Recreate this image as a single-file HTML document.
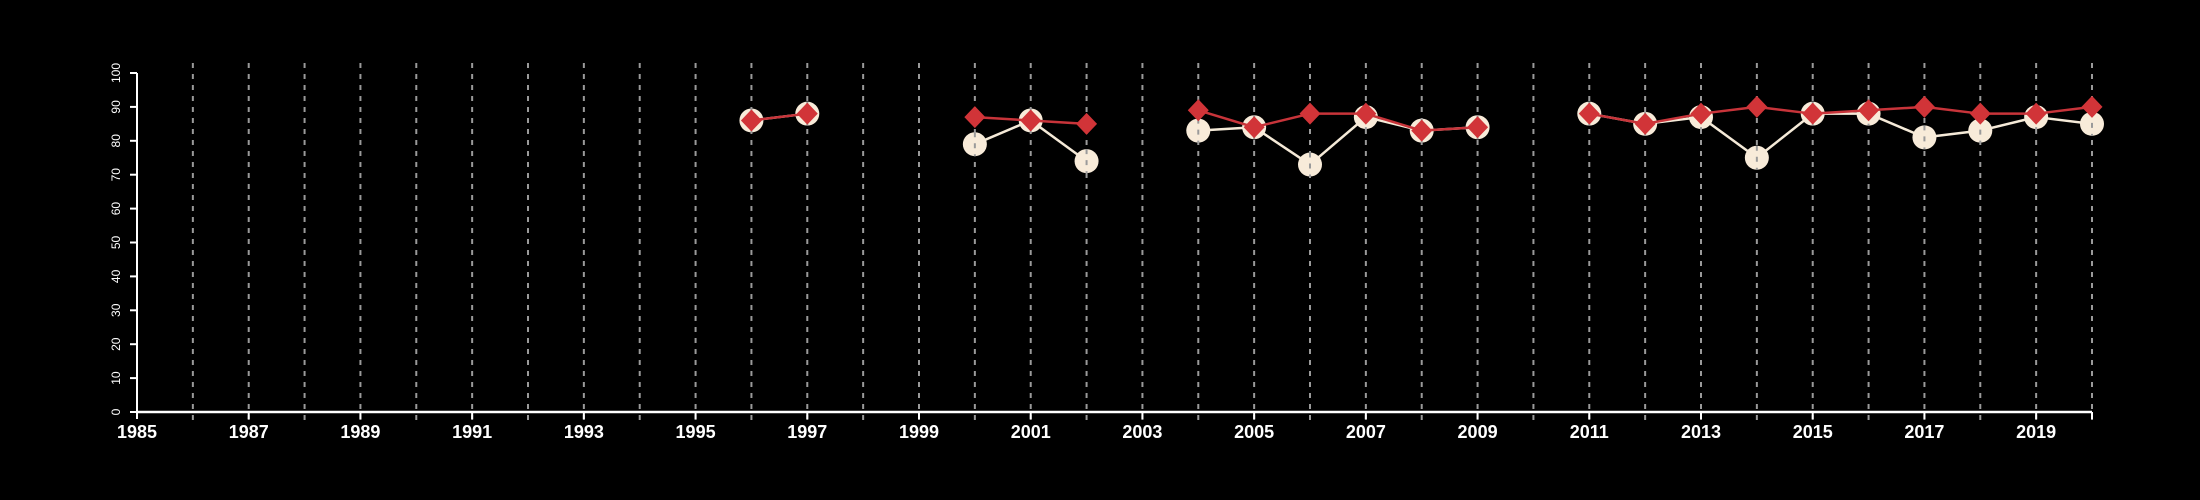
<!DOCTYPE html>
<html><head><meta charset="utf-8"><style>
html,body{margin:0;padding:0;background:#000;}
svg{display:block;font-family:"Liberation Sans",sans-serif;}
</style></head><body>
<svg id="chart" width="2200" height="500" xmlns="http://www.w3.org/2000/svg">
<rect width="2200" height="500" fill="#000"/>
<g id="grid"></g>
<g id="axes"></g>
<g id="series"></g>
</svg>
<script>
const years = [1996,1997,2000,2001,2002,2004,2005,2006,2007,2008,2009,2011,2012,2013,2014,2015,2016,2017,2018,2019,2020];
const whiteValues = [86,88,79,86,74,83,84,73,87,83,84,88,85,87,75,88,88,81,83,87,85];
const redValues = [86,88,87,86,85,89,84,88,88,83,84,88,85,88,90,88,89,90,88,88,90];
const yTicks = [0,10,20,30,40,50,60,70,80,90,100];
const xLabels = [1985,1987,1989,1991,1993,1995,1997,1999,2001,2003,2005,2007,2009,2011,2013,2015,2017,2019];

const NS='http://www.w3.org/2000/svg';
const x0=137,x1=2092,yr0=1985,yr1=2020,yBase=412,yTop=73;
const X=v=>x0+(v-yr0)*(x1-x0)/(yr1-yr0);
const Y=v=>yBase-(v/100)*(yBase-yTop);
function mk(tag,attrs,parent){const e=document.createElementNS(NS,tag);for(const k in attrs)e.setAttribute(k,attrs[k]);parent.appendChild(e);return e;}
const grid=document.getElementById('grid'),axes=document.getElementById('axes'),series=document.getElementById('series');

for(let y=1986;y<=2020;y++){
  const l=mk('line',{x1:X(y),x2:X(y),y1:63,y2:426,stroke:'#9a9a9a','stroke-width':2,'stroke-dasharray':'5,6'},grid);
  
  
}
const xa=mk('line',{x1:x0,x2:x1,y1:yBase,y2:yBase,stroke:'#fff','stroke-width':2.5},axes);


const ya=mk('line',{x1:x0,x2:x0,y1:yBase,y2:yTop,stroke:'#fff','stroke-width':2},axes);


for(let y=1985;y<=2020;y+=2){
  const t=mk('line',{x1:X(y),x2:X(y),y1:yBase,y2:yBase+7,stroke:'#fff','stroke-width':2},axes);
  
  
}
const tEnd=mk('line',{x1:X(2020),x2:X(2020),y1:yBase,y2:yBase+7,stroke:'#fff','stroke-width':2},axes);


xLabels.forEach(v=>{
  const t=mk('text',{x:X(v),y:438,'text-anchor':'middle','font-size':18,'font-weight':'bold',fill:'#fff'},axes);
  t.textContent=v;
  
  
});
yTicks.forEach(v=>{
  const tk=mk('line',{x1:x0-7,x2:x0,y1:Y(v),y2:Y(v),stroke:'#fff','stroke-width':2},axes);
  
  
  const t=mk('text',{x:0,y:0,'text-anchor':'middle','font-size':12,fill:'#fff',transform:`translate(120,${Y(v)}) rotate(-90)`},axes);
  t.textContent=v;
  
  
});

function drawLines(vals,color,name){
  for(let i=1;i<years.length;i++){
    if(years[i]-years[i-1]!==1)continue;
    const l=mk('line',{x1:X(years[i-1]),y1:Y(vals[i-1]),x2:X(years[i]),y2:Y(vals[i]),stroke:color,'stroke-width':2.5},series);
    
    
  }
}
drawLines(whiteValues,'#f5ead8','white-series');
years.forEach((y,i)=>{
  const c=mk('circle',{cx:X(y),cy:Y(whiteValues[i]),r:12,fill:'#f8ebd9'},series);
  
  
  const d=mk('line',{x1:X(y),x2:X(y),y1:Y(whiteValues[i])-12,y2:Y(whiteValues[i])+12,stroke:'#9a9a9a','stroke-width':2,'stroke-dasharray':'5,6'},series);
  
  
});
drawLines(redValues,'#c8343a','red-series');
years.forEach((y,i)=>{
  const cx=X(y),cy=Y(redValues[i]);
  const p=mk('polygon',{points:`${cx},${cy-11} ${cx+10.5},${cy} ${cx},${cy+11} ${cx-10.5},${cy}`,fill:'#d13438'},series);
  
  
});
</script>
</body></html>
